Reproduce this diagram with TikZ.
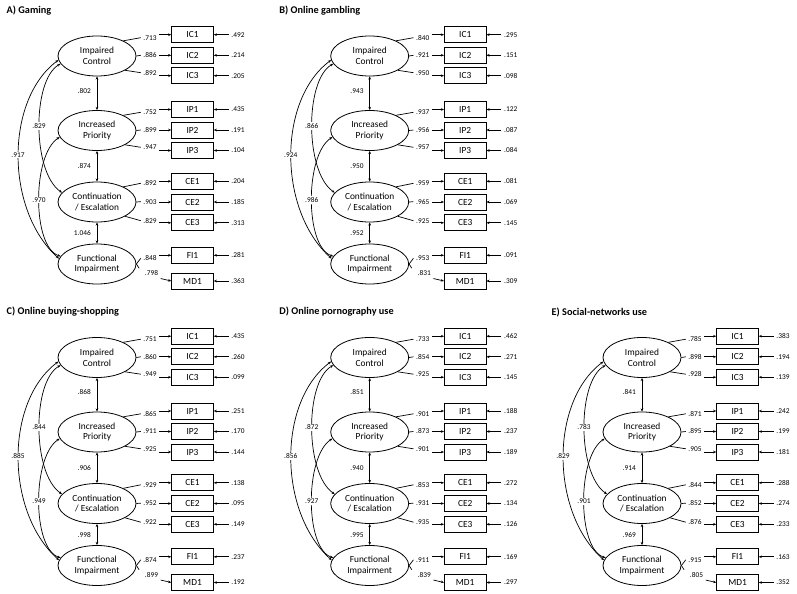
\documentclass[tikz,border=0pt]{standalone}
\usepackage{fontspec}
\setmainfont{Carlito}
\usetikzlibrary{arrows.meta,shapes.geometric}
\tikzset{
  lat/.style={ellipse, draw, line width=0.8bp, minimum width=78bp, minimum height=40bp, inner sep=0pt, align=center, font=\fontsize{9.4}{10.7}\selectfont},
  ind/.style={draw, line width=0.8bp, minimum width=41.6bp, minimum height=16bp, inner sep=0pt, font=\fontsize{9.4}{10.7}\selectfont},
  val/.style={inner sep=2.5bp, font=\fontsize{7.4}{8}\selectfont},
  covlab/.style={val, fill=white, inner sep=1bp},
  conn/.style={line width=0.7bp},
  arr/.style={conn, -{Stealth[length=3.2bp,width=2.6bp]}},
  darr/.style={conn, {Stealth[length=3.2bp,width=2.6bp]}-{Stealth[length=3.2bp,width=2.6bp]}},
  ttl/.style={anchor=west, inner sep=0pt, font=\fontsize{10.3}{12}\selectfont\bfseries},
}
\newcount\pcount
\newcommand\indpos[1]{%
  \def\lx{150}\def\sh{0bp}%
  \ifcase#1\or
  \def\bn{IC1}\def\by{34.7}\def\ly{37.7}\def\el{IC}\def\an{30}\or
  \def\bn{IC2}\def\by{55.3}\def\ly{55.3}\def\el{IC}\def\an{east}\or
  \def\bn{IC3}\def\by{75.7}\def\ly{72.7}\def\el{IC}\def\an{-27}\or
  \def\bn{IP1}\def\by{109.5}\def\ly{112.3}\def\el{IP}\def\an{30}\or
  \def\bn{IP2}\def\by{130}\def\ly{130}\def\el{IP}\def\an{east}\or
  \def\bn{IP3}\def\by{150.5}\def\ly{147.3}\def\el{IP}\def\an{-27}\or
  \def\bn{CE1}\def\by{181.3}\def\ly{183.3}\def\el{CE}\def\an{30}\or
  \def\bn{CE2}\def\by{202}\def\ly{201.7}\def\el{CE}\def\an{east}\or
  \def\bn{CE3}\def\by{222.8}\def\ly{220.7}\def\el{CE}\def\an{-27}\or
  \def\bn{FI1}\def\by{255.3}\def\ly{258.3}\def\el{FI}\def\an{east}\or
  \def\bn{MD1}\def\by{281}\def\ly{273.3}\def\el{FI}\def\an{east}\def\lx{151.5}\def\sh{6bp}\fi}
% #1 shift, #2 title, #3-#5 structural, #6 IC-CE, #7 IC-FI, #8 IP-FI, #9 loadings/errors
\newcommand\panel[9]{%
  \global\advance\pcount by 1
  \edef\pp{P\the\pcount-}%
  \begin{scope}[shift={(#1)}, name prefix=\pp]
    \node[ttl] (T) at (6.5,10.5) {#2};
    \node[lat] (IC) at (97,56) {Impaired\\Control};
    \node[lat] (IP) at (97,130.5) {Increased\\Priority};
    \node[lat] (CE) at (97,202) {Continuation\\/ Escalation};
    \node[lat] (FI) at (97,264) {Functional\\Impairment};
    \draw[darr] (IC.south) -- (IP.north);
    \draw[darr] (IP.south) -- (CE.north);
    \draw[darr] (CE.south) -- (FI.north);
    \node[val, anchor=east] (S1) at (93.5,91) {#3};
    \node[val, anchor=east] (S2) at (93.5,166.5) {#4};
    \node[val, anchor=east] (S3) at (93.5,233.3) {#5};
    \draw[darr] (IC.186) .. controls (5,100) and (5,210) .. (FI.172);
    \draw[darr] (IC.192) .. controls (32,80) and (32,172) .. (CE.165);
    \draw[darr] (IP.190) .. controls (32,155) and (32,247) .. (FI.168);
    \node[covlab] (C2) at (18,155) {#7};
    \node[covlab] (C1) at (39,126) {#6};
    \node[covlab] (C3) at (39,200) {#8};
    \foreach \ld/\er [count=\i] in {#9}{%
      \indpos{\i}%
      \node[ind] (\bn) at (192.5,\by) {\bn};
      \node[val] (L\i) at (\lx,\ly) {\ld};
      \node[val] (E\i) at (238,\by) {\er};
      \draw[conn, shorten >=\sh] (\el.\an) -- (L\i.west);
      \ifnum\i=11
        \draw[arr] (L\i.south east) -- (\bn.west);
      \else
        \draw[arr] (L\i.east |- \bn.west) -- (\bn.west);
      \fi
      \draw[arr] (E\i.west) -- (\bn.east);
    }
  \end{scope}}
\begin{document}
\begin{tikzpicture}[x=1bp, y=-1bp]
\useasboundingbox (0,0) rectangle (797,594);
\panel{0,0}{A) Gaming}{.802}{.874}{1.046}{.829}{.917}{.970}%
  {.713/.492,.886/.214,.892/.205,.752/.435,.899/.191,.947/.104,.892/.204,.903/.185,.829/.313,.848/.281,.798/.363}
\panel{272.7,0}{B) Online gambling}{.943}{.950}{.952}{.866}{.924}{.986}%
  {.840/.295,.921/.151,.950/.098,.937/.122,.956/.087,.957/.084,.959/.081,.965/.069,.925/.145,.953/.091,.831/.309}
\panel{0,301.5}{C) Online buying-shopping}{.868}{.906}{.998}{.844}{.885}{.949}%
  {.751/.435,.860/.260,.949/.099,.865/.251,.911/.170,.925/.144,.929/.138,.952/.095,.922/.149,.874/.237,.899/.192}
\panel{272.7,301.5}{D) Online pornography use}{.851}{.940}{.995}{.872}{.856}{.927}%
  {.733/.462,.854/.271,.925/.145,.901/.188,.873/.237,.901/.189,.853/.272,.931/.134,.935/.126,.911/.169,.839/.297}
\panel{545,301.5}{E) Social-networks use}{.841}{.914}{.969}{.783}{.829}{.901}%
  {.785/.383,.898/.194,.928/.139,.871/.242,.895/.199,.905/.181,.844/.288,.852/.274,.876/.233,.915/.163,.805/.352}
\end{tikzpicture}
\end{document}
